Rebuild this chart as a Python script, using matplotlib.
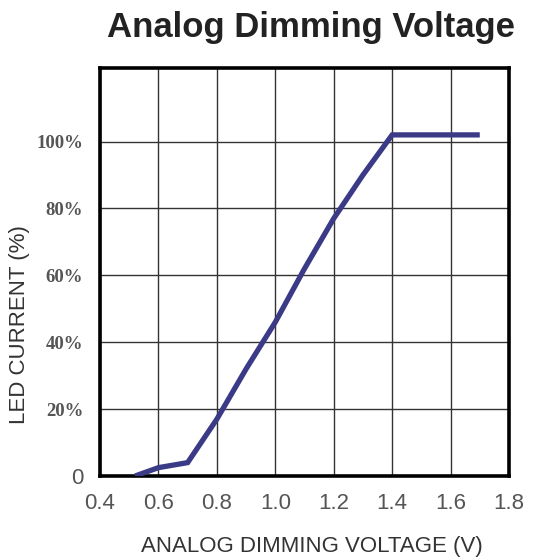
import matplotlib
matplotlib.use('Agg')
import matplotlib.pyplot as plt

# Dimming curve
voltage = [0.52, 0.6, 0.7, 0.8, 0.9, 1.0, 1.1, 1.2, 1.3, 1.4, 1.7]
current = [0, 2.5, 4, 17, 32, 46, 62, 77, 90, 102, 102]

x_ticks = [0.4, 0.6, 0.8, 1.0, 1.2, 1.4, 1.6, 1.8]
x_labels = ['0.4', '0.6', '0.8', '1.0', '1.2', '1.4', '1.6', '1.8']
y_ticks = [0, 20, 40, 60, 80, 100]
y_labels = ['0', '20%', '40%', '60%', '80%', '100%']

fig = plt.figure(figsize=(5.34, 5.59), dpi=100)
ax = fig.add_axes([100 / 534, 1 - 476 / 559, 409 / 534, 408 / 559])

ax.plot(voltage, current, color='#3b3a86', linewidth=3.8, solid_capstyle='butt',
        solid_joinstyle='miter', zorder=3)

ax.set_xlim(0.4, 1.8)
ax.set_ylim(0, 122)
ax.set_xticks(x_ticks)
ax.set_xticklabels(x_labels, fontsize=16, color='#555555', family='Liberation Sans')
ax.set_yticks(y_ticks)
ax.set_yticklabels(y_labels, fontsize=13.5, color='#555555', family='Liberation Serif',
                   fontweight='bold')
# the zero label is set in plain sans in the original
zero = ax.get_yticklabels()[0]
zero.set_fontfamily('Liberation Sans')
zero.set_fontweight('normal')
zero.set_fontsize(16)
ax.tick_params(axis='both', length=0)
ax.tick_params(axis='x', pad=12)
ax.tick_params(axis='y', pad=12)

ax.grid(True, color='#333333', linewidth=1.0)
ax.set_axisbelow(True)
for s in ax.spines.values():
    s.set_linewidth(2.6)
    s.set_color('black')

fig.text(311 / 534, 1 - 37 / 559, 'Analog Dimming Voltage', fontsize=25,
         fontweight='bold', color='#222222', ha='center', va='baseline',
         family='Liberation Sans')
fig.text(312 / 534, 1 - 552 / 559, 'ANALOG DIMMING VOLTAGE (V)', fontsize=16,
         color='#333333', ha='center', va='baseline', family='Liberation Sans')
fig.text(20 / 534, 1 - 325 / 559, 'LED CURRENT (%)', fontsize=16,
         color='#333333', ha='center', va='center', rotation=90,
         family='Liberation Sans')

fig.savefig('out.png', dpi=100)
plt.close()
